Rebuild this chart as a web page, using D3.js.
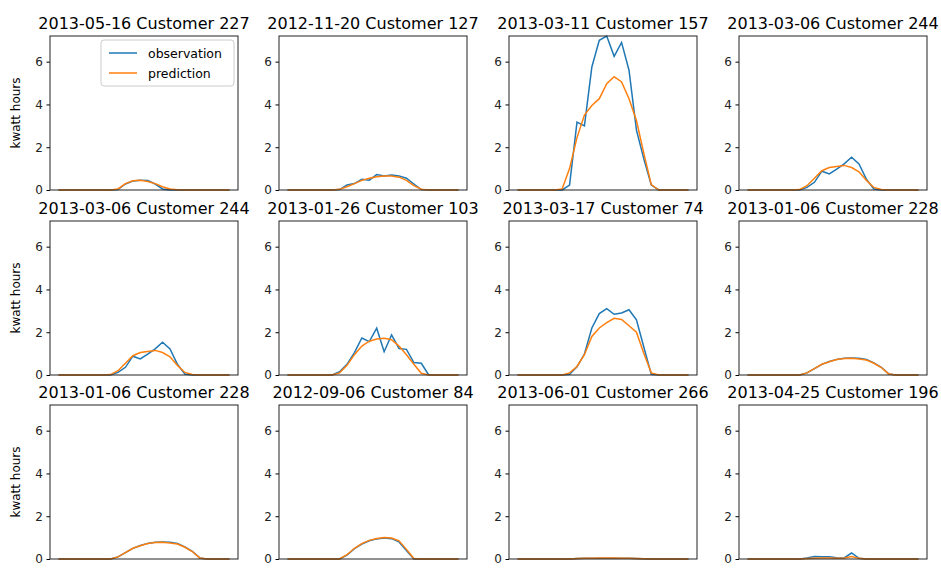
<!DOCTYPE html>
<html><head><meta charset="utf-8">
<script src="https://cdn.jsdelivr.net/npm/d3@7"></script>
<style>body{margin:0;background:#fff}text{font-family:"DejaVu Sans",sans-serif}</style>
</head><body><svg id="c" width="941" height="575"></svg>
<script>
const titles = ["2013-05-16 Customer 227","2012-11-20 Customer 127","2013-03-11 Customer 157","2013-03-06 Customer 244",
  "2013-03-06 Customer 244","2013-01-26 Customer 103","2013-03-17 Customer 74","2013-01-06 Customer 228",
  "2013-01-06 Customer 228","2012-09-06 Customer 84","2013-06-01 Customer 266","2013-04-25 Customer 196"];
const hours = d3.range(24);
const yTicks = [0, 2, 4, 6];

const z = n => Array(n).fill(0);
const obs227 = [...z(8), 0.02,0.28,0.42,0.46,0.45,0.28,0.05, ...z(9)];
const pred227 = [...z(8), 0.05,0.3,0.43,0.45,0.4,0.3,0.15,0.05,0.01, ...z(7)];
const obs127 = [...z(7), 0.02,0.23,0.3,0.5,0.46,0.72,0.65,0.7,0.66,0.55,0.28,0.02, ...z(5)];
const pred127 = [...z(7), 0.03,0.15,0.3,0.45,0.55,0.62,0.65,0.65,0.6,0.45,0.2,0.04, ...z(5)];
const obs157 = [...z(7), 0.23,3.17,3.0,5.75,7.0,7.2,6.25,6.9,5.6,2.8,1.45,0.23, ...z(5)];
const pred157 = [...z(6), 0.05,1.0,2.45,3.5,3.95,4.27,4.97,5.3,5.05,4.27,3.25,1.7,0.25, ...z(5)];
const obs244 = [...z(8), 0.12,0.36,0.88,0.75,0.98,1.22,1.53,1.22,0.5,0.05, ...z(6)];
const pred244 = [...z(7), 0.02,0.2,0.55,0.9,1.05,1.1,1.15,1.05,0.85,0.45,0.12,0.02, ...z(5)];
const obs103 = [...z(7), 0.15,0.5,1.05,1.73,1.56,2.19,1.09,1.87,1.24,1.2,0.58,0.55, ...z(5)];
const pred103 = [...z(7), 0.1,0.45,0.95,1.35,1.58,1.68,1.72,1.65,1.35,0.95,0.5,0.08, ...z(5)];
const obs74 = [...z(7), 0.03,0.38,0.98,2.2,2.87,3.1,2.84,2.9,3.05,2.58,1.3,0.03, ...z(5)];
const pred74 = [...z(7), 0.1,0.4,0.95,1.8,2.2,2.45,2.65,2.6,2.3,2.0,1.0,0.1, ...z(5)];
const obs228 = [...z(8), 0.1,0.3,0.5,0.63,0.73,0.78,0.8,0.78,0.73,0.57,0.36,0.05, ...z(4)];
const pred228 = [...z(8), 0.1,0.3,0.5,0.62,0.72,0.77,0.78,0.75,0.7,0.55,0.35,0.05, ...z(4)];
const obs84 = [...z(8), 0.18,0.48,0.7,0.85,0.94,0.98,0.95,0.8,0.4,0, ...z(6)];
const pred84 = [...z(8), 0.2,0.5,0.72,0.87,0.96,1.0,0.98,0.85,0.45,0.02, ...z(6)];
const obs266 = [...z(8), 0.02,0.03,0.04,0.04,0.04,0.04,0.03,0.03,0.02,0.01, ...z(6)];
const pred266 = [...z(8), 0.02,0.03,0.04,0.05,0.05,0.05,0.04,0.03,0.02,0.01, ...z(6)];
const obs196 = [...z(8), 0.05,0.12,0.1,0.11,0.06,0.05,0.28,0.03, ...z(8)];
const pred196 = [...z(8), 0.02,0.04,0.05,0.05,0.04,0.05,0.12,0.03, ...z(8)];

const obsSeries = [obs227,obs127,obs157,obs244,obs244,obs103,obs74,obs228,obs228,obs84,obs266,obs196];
const predSeries = [pred227,pred127,pred157,pred244,pred244,pred103,pred74,pred228,pred228,pred84,pred266,pred196];

const svg = d3.select("#c");
const lefts = [50, 279, 509, 739], tops = [36, 221, 405];
const W = 188, H = 154;
const x = d3.scaleLinear().domain([-1.15, 24.15]).range([0, W]);
const y = d3.scaleLinear().domain([0, 7.2]).range([H, 0]);
const line = d3.line().x((d, i) => x(i)).y(d => y(d));

titles.forEach((t, k) => {
  const r = Math.floor(k / 4), c = k % 4;
  const g = svg.append("g").attr("transform", `translate(${lefts[c]},${tops[r]})`);
  g.append("g").attr("transform", `translate(0,${H})`)
    .call(d3.axisBottom(x).tickValues([]).tickSizeOuter(0));
  g.append("g").call(d3.axisLeft(y).tickValues(yTicks).tickSize(3.5).tickPadding(3.5))
    .call(a => a.selectAll("text").attr("font-size", 12).attr("fill", "#222"));
  g.selectAll(".domain").remove();
  g.append("path").datum(obsSeries[k]).attr("d", line).attr("fill", "none").attr("stroke", "#1f77b4").attr("stroke-width", 1.5);
  g.append("path").datum(predSeries[k]).attr("d", line).attr("fill", "none").attr("stroke", "#ff7f0e").attr("stroke-width", 1.5);
  g.append("rect").attr("width", W).attr("height", H).attr("fill", "none").attr("stroke", "#222").attr("stroke-width", 1);
  g.append("text").attr("x", W / 2).attr("y", -7).attr("text-anchor", "middle").attr("font-size", 16).text(t);
  if (c === 0) {
    g.append("text").attr("transform", `translate(-30,${H / 2}) rotate(-90)`).attr("text-anchor", "middle")
      .attr("font-size", 12).text("kwatt hours");
  }
  if (k === 0) {
    const lg = g.append("g").attr("transform", `translate(${W - 137},4)`);
    lg.append("rect").attr("width", 133).attr("height", 46).attr("rx", 3).attr("fill", "#fff").attr("stroke", "#ccc");
    [["observation", "#1f77b4"], ["prediction", "#ff7f0e"]].forEach(([n, col], j) => {
      lg.append("line").attr("x1", 8).attr("x2", 36).attr("y1", 13 + j * 20).attr("y2", 13 + j * 20)
        .attr("stroke", col).attr("stroke-width", 1.5);
      lg.append("text").attr("x", 47).attr("y", 17.5 + j * 20).attr("font-size", 12.5).text(n);
    });
  }
});
</script></body></html>
